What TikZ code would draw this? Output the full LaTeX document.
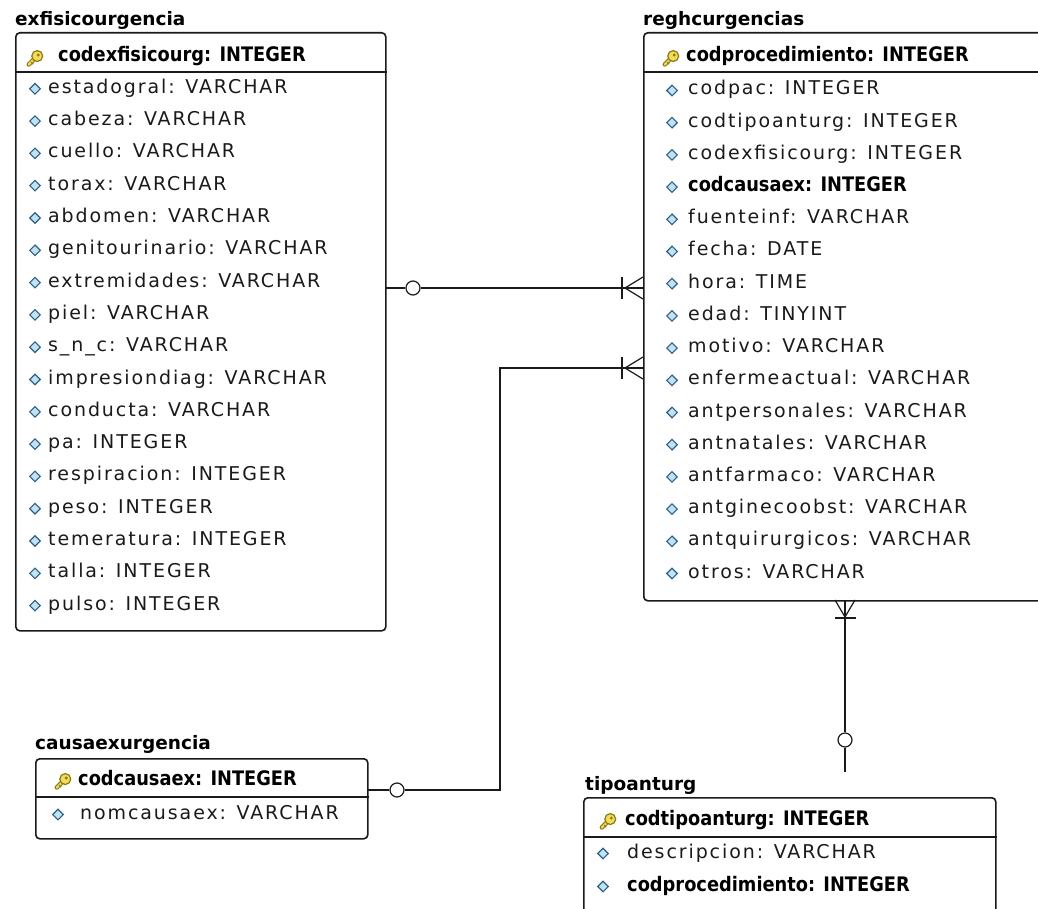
\documentclass[tikz,border=0pt]{standalone}
\usepackage{fontspec}
\setmainfont{DejaVu Sans}
\newfontfamily\fieldfont[LetterSpace=10]{DejaVu Sans}
\newfontfamily\keyfont[FakeStretch=0.89]{DejaVu Sans}
\usetikzlibrary{shapes.geometric}

\definecolor{ink}{HTML}{1A1A1A}
\definecolor{diafill}{HTML}{BFE3F0}
\definecolor{diadraw}{HTML}{2E5E8A}
\definecolor{keyfill}{HTML}{F2DC5A}
\definecolor{keydraw}{HTML}{8C7A14}

\tikzset{
  tbl/.style={draw=ink, line width=1.6pt, rounded corners=4pt, fill=white,
              inner sep=0pt, anchor=north west},
  ttl/.style={anchor=base west, inner sep=0pt, text=black,
              font=\fontsize{18.5}{20}\selectfont\bfseries},
  fldb/.style={anchor=base west, inner sep=0pt, text=black,
              font=\keyfont\fontsize{20}{22}\selectfont\bfseries},
  fld/.style={anchor=base west, inner sep=0pt, text=ink,
              font=\fieldfont\fontsize{19}{22}\selectfont},
  dia/.style={diamond, draw=diadraw, fill=diafill, line width=1.1pt,
              minimum size=11pt, inner sep=0pt},
  sepline/.style={draw=ink, line width=1.4pt},
  rel/.style={draw=ink, line width=1.4pt},
  opt/.style={circle, draw=ink, fill=white, line width=1.2pt,
              minimum size=14pt, inner sep=0pt},
  crow/.style={draw=ink, line width=1.2pt},
  keyicon/.pic={
    \draw[keydraw, line width=4.4pt, line cap=round] (-4,5) -- (1,0);
    \draw[keyfill, line width=2.2pt, line cap=round] (-4,5) -- (1,0);
    \draw[keydraw, line width=1.2pt] (-2.2,3.2) -- (-0.6,4.8);
    \draw[fill=keyfill, draw=keydraw, line width=1.2pt] (2.5,-1.5) circle (4.2);
    \fill[keydraw] (3.3,-2.3) circle (1.2);
  }
}

\begin{document}
\begin{tikzpicture}[x=1pt, y=-1pt]
\useasboundingbox[fill=white] (0,0) rectangle (1038,909);

% ---------- exfisicourgencia ----------
\node[ttl] (exf-t) at (15,26) {exfisicourgencia};
\node[tbl, minimum width=370pt, minimum height=598pt] (exf) at (15,32) {};
\draw[sepline] (exf.west |- 0,72) -- (exf.east |- 0,72);
\pic[scale=1.3] (exf-k) at (34,58) {keyicon};
\node[fldb] (exf-h) at (58,61.5) {codexfisicourg: INTEGER};
\foreach \t [count=\i from 0] in {estadogral: VARCHAR, cabeza: VARCHAR,
    cuello: VARCHAR, torax: VARCHAR, abdomen: VARCHAR,
    genitourinario: VARCHAR, extremidades: VARCHAR, piel: VARCHAR,
    s\_n\_c: VARCHAR, impresiondiag: VARCHAR, conducta: VARCHAR,
    pa: INTEGER, respiracion: INTEGER, peso: INTEGER,
    temeratura: INTEGER, talla: INTEGER, pulso: INTEGER} {
  \node[dia] (exf-d\i) at (35,{88.8+32.3*\i}) {};
  \node[fld] (exf-f\i) at (48,{93.3+32.3*\i}) {\t};
}

% ---------- reghcurgencias ----------
\node[ttl] (reg-t) at (643,26) {reghcurgencias};
\node[tbl, minimum width=420pt, minimum height=568pt] (reg) at (643,32) {};
\draw[sepline] (reg.west |- 0,72) -- (reg.east |- 0,72);
\pic[scale=1.3] (reg-k) at (670,58) {keyicon};
\node[fldb] (reg-h) at (686,61.5) {codprocedimiento: INTEGER};
\foreach \s/\t [count=\i from 0] in {fld/codpac: INTEGER,
    fld/codtipoanturg: INTEGER, fld/codexfisicourg: INTEGER,
    fldb/codcausaex: INTEGER, fld/fuenteinf: VARCHAR, fld/fecha: DATE,
    fld/hora: TIME, fld/edad: TINYINT, fld/motivo: VARCHAR,
    fld/enfermeactual: VARCHAR, fld/antpersonales: VARCHAR,
    fld/antnatales: VARCHAR, fld/antfarmaco: VARCHAR,
    fld/antginecoobst: VARCHAR, fld/antquirurgicos: VARCHAR,
    fld/otros: VARCHAR} {
  \node[dia] (reg-d\i) at (672,{90.5+32.2*\i}) {};
  \node[\s] (reg-f\i) at (688,{95+32.2*\i}) {\t};
}

% ---------- causaexurgencia ----------
\node[ttl] (cau-t) at (35,749) {causaexurgencia};
\node[tbl, minimum width=332pt, minimum height=80pt] (cau) at (35,758) {};
\draw[sepline] (cau.west |- 0,797) -- (cau.east |- 0,797);
\pic[scale=1.3] (cau-k) at (62,781) {keyicon};
\node[fldb] (cau-h) at (78,785) {codcausaex: INTEGER};
\node[dia] (cau-d0) at (58,814.5) {};
\node[fld] (cau-f0) at (80,819) {nomcausaex: VARCHAR};

% ---------- tipoanturg ----------
\node[ttl] (tip-t) at (585,790) {tipoanturg};
\node[tbl, minimum width=412pt, minimum height=140pt] (tip) at (583,797) {};
\draw[sepline] (tip.west |- 0,837) -- (tip.east |- 0,837);
\pic[scale=1.3] (tip-k) at (607,821) {keyicon};
\node[fldb] (tip-h) at (625,825) {codtipoanturg: INTEGER};
\node[dia] (tip-d0) at (603,853.5) {};
\node[fld] (tip-f0) at (627,858) {descripcion: VARCHAR};
\node[dia] (tip-d1) at (603,886.5) {};
\node[fldb] (tip-f1) at (627,891) {codprocedimiento: INTEGER};

% ---------- relations ----------
% exfisicourgencia -> reghcurgencias
\coordinate (a1) at (385,288);
\coordinate (b1) at (643,288);
\coordinate (k1) at (625,288);
\node[opt] (o1) at (413,288) {};
\draw[rel] (a1) -- (o1) -- (b1);
\draw[crow] (k1) -- ++(18,-11) (k1) -- ++(18,11);
\draw[crow] (k1) ++(-3,-11) -- ++(0,22);

% causaexurgencia -> reghcurgencias
\coordinate (a2) at (367,790);
\coordinate (t2) at (500,368);
\coordinate (b2) at (643,368);
\coordinate (k2) at (625,368);
\node[opt] (o2) at (397,790) {};
\draw[rel] (a2) -- (o2) -- (o2 -| t2) -- (t2) -- (b2);
\draw[crow] (k2) -- ++(18,-11) (k2) -- ++(18,11);
\draw[crow] (k2) ++(-3,-11) -- ++(0,22);

% tipoanturg -> reghcurgencias
\coordinate (a3) at (845,600);
\coordinate (e3) at (845,772);
\coordinate (k3) at (845,617);
\node[opt] (o3) at (845,740) {};
\draw[rel] (a3) -- (o3) -- (e3);
\draw[crow] (k3) -- ++(-10,-17) (k3) -- ++(10,-17);
\draw[crow] (k3) ++(-10,1) -- ++(21,0);
\end{tikzpicture}
\end{document}
